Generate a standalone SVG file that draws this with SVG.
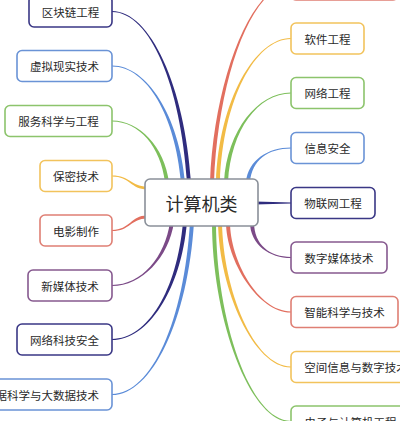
<svg xmlns="http://www.w3.org/2000/svg" width="400" height="421" viewBox="0 0 400 421">
<style>
.n rect{fill:#fff;stroke-width:1.6}
.n text{font-family:"Noto Sans CJK SC","Noto Sans",sans-serif;font-size:11.5px;fill:#2a2a2a;text-anchor:middle;dominant-baseline:central}
.navy{fill:#2f2c7e}.blue{fill:#5a8bd8}.green{fill:#7dbf5b}.yellow{fill:#f2bb45}.red{fill:#e26f5f}.purple{fill:#7b4a87}
.s-navy rect{stroke:#3a3785}.s-blue rect{stroke:#6a93d6}.s-green rect{stroke:#8cc46c}.s-yellow rect{stroke:#f2c35c}.s-red rect{stroke:#df7f74}.s-purple rect{stroke:#86598f}
</style>
<rect width="400" height="421" fill="#fff"/>
<g id="connectors">
<path class="navy" d="M112,10.9 C150.5,10.9 184.8,86.9 191,182 L187,182 C180.8,86.9 150.5,12.1 112,12.1Z"/>
<path class="blue" d="M112,65.4 C147.5,65.4 179.3,116.9 185,182 L181,182 C175.3,116.9 147.5,66.6 112,66.6Z"/>
<path class="green" d="M112,120.4 C139.5,120.4 164.6,147.1 169,182 L165,182 C160.6,147.1 139.5,121.6 112,121.6Z"/>
<path class="yellow" d="M112,175.4 C130,175.4 131,186.5 147,186.5 L147,189.5 C131,189.5 130,176.6 112,176.6Z"/>
<path class="red" d="M112,229.9 C130,229.9 131,215.5 147,215.5 L147,218.5 C131,218.5 130,231.1 112,231.1Z"/>
<path class="purple" d="M112,284.9 C142,284.9 165,257 170,222 L174,222 C169,257 142,286.1 112,286.1Z"/>
<path class="navy" d="M112,338.9 C148,338.9 177,290 183,222 L187,222 C181,290 148,340.1 112,340.1Z"/>
<path class="blue" d="M112,393.9 C152,393.9 184,320 190,222 L194,222 C188,320 152,395.1 112,395.1Z"/>
<path class="red" d="M291,-16.1 C251,-16.1 214,80 210,182 L214,182 C218,80 251,-14.9 291,-14.9Z"/>
<path class="yellow" d="M291,37.9 C255,37.9 219,100 216,182 L220,182 C223,100 255,39.1 291,39.1Z"/>
<path class="green" d="M291,92.4 C258,92.4 227,130 224,182 L228,182 C231,130 258,93.6 291,93.6Z"/>
<path class="blue" d="M291,147.4 C268,147.4 248,160 246,182 L250,182 C252,160 268,148.6 291,148.6Z"/>
<path class="navy" d="M255,201.6 L291,202.4 L291,203.6 L255,204.4Z"/>
<path class="purple" d="M291,256.9 C270,256.9 254,245 254,222 L250,222 C250,245 270,258.1 291,258.1Z"/>
<path class="red" d="M291,311.4 C258,311.4 230,260 230,222 L226,222 C226,260 258,312.6 291,312.6Z"/>
<path class="yellow" d="M291,366.4 C254,366.4 223,290 222,222 L218,222 C219,290 254,367.6 291,367.6Z"/>
<path class="green" d="M291,420.9 C250,420.9 216,320 216,222 L212,222 C212,320 250,422.1 291,422.1Z"/>
</g>
<g id="center" class="n">
<rect x="145" y="179" width="113" height="47" rx="5" style="stroke:#8a9099"/>
<text x="201.5" y="202.5" style="font-size:18px">计算机类</text>
</g>
<g id="n-qukuailian" class="n s-navy"><rect x="29" y="-4" width="83" height="31" rx="5"/><text x="70.5" y="11.5">区块链工程</text></g>
<g id="n-xuni" class="n s-blue"><rect x="17" y="50.5" width="95" height="31" rx="5"/><text x="64.5" y="66">虚拟现实技术</text></g>
<g id="n-fuwu" class="n s-green"><rect x="5" y="105.5" width="107" height="31" rx="5"/><text x="58.5" y="121">服务科学与工程</text></g>
<g id="n-baomi" class="n s-yellow"><rect x="40" y="160.5" width="72" height="31" rx="5"/><text x="76" y="176">保密技术</text></g>
<g id="n-dianying" class="n s-red"><rect x="40" y="215" width="72" height="31" rx="5"/><text x="76" y="230.5">电影制作</text></g>
<g id="n-xinmeiti" class="n s-purple"><rect x="28" y="270" width="84" height="31" rx="5"/><text x="70" y="285.5">新媒体技术</text></g>
<g id="n-wangluokeji" class="n s-navy"><rect x="17" y="324" width="95" height="31" rx="5"/><text x="64.5" y="339.5">网络科技安全</text></g>
<g id="n-shuju" class="n s-blue"><rect x="-29" y="379" width="141" height="31" rx="5"/><text x="41.5" y="394.5">数据科学与大数据技术</text></g>
<g id="n-top" class="n s-red"><rect x="291" y="-31" width="107" height="31" rx="5"/></g>
<g id="n-ruanjian" class="n s-yellow"><rect x="291" y="23" width="73" height="31" rx="5"/><text x="327.5" y="38.5">软件工程</text></g>
<g id="n-wangluo" class="n s-green"><rect x="291" y="77.5" width="73" height="31" rx="5"/><text x="327.5" y="93">网络工程</text></g>
<g id="n-xinxi" class="n s-blue"><rect x="291" y="132.5" width="73" height="31" rx="5"/><text x="327.5" y="148">信息安全</text></g>
<g id="n-wulianwang" class="n s-navy"><rect x="291" y="187.5" width="84" height="31" rx="5"/><text x="333" y="203">物联网工程</text></g>
<g id="n-shuzimeiti" class="n s-purple"><rect x="291" y="242" width="96" height="31" rx="5"/><text x="339" y="257.5">数字媒体技术</text></g>
<g id="n-zhineng" class="n s-red"><rect x="291" y="296.5" width="107" height="31" rx="5"/><text x="344.5" y="312">智能科学与技术</text></g>
<g id="n-kongjian" class="n s-yellow"><rect x="291" y="351.5" width="130" height="31" rx="5"/><text x="356" y="367">空间信息与数字技术</text></g>
<g id="n-dianzi" class="n s-green"><rect x="291" y="406" width="119" height="31" rx="5"/><text x="350.5" y="421.5">电子与计算机工程</text></g>
</svg>
